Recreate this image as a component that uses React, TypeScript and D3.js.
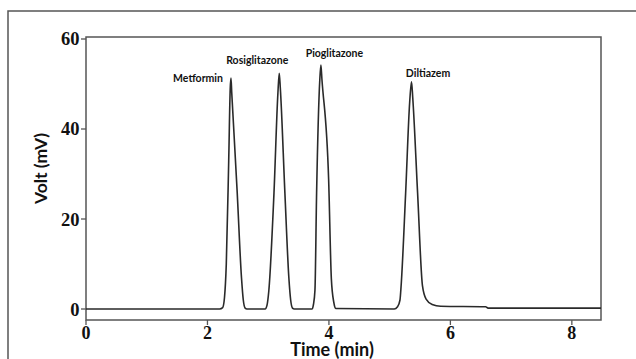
import React from "react";
import * as d3 from "d3";

const timeMin: number[] = [
  0, 2.2, 2.25, 2.28, 2.31, 2.35, 2.375, 2.387, 2.4, 2.49, 2.56, 2.59, 2.62, 2.65,
  2.95, 2.98, 3.01, 3.095, 3.16, 3.182, 3.2, 3.275, 3.34, 3.37, 3.4, 3.43,
  3.72, 3.745, 3.77, 3.797, 3.85, 3.868, 3.885, 3.995, 4.04, 4.08, 4.115,
  5.075, 5.13, 5.17, 5.185, 5.263, 5.33, 5.36, 5.38, 5.46, 5.54, 5.6, 5.7, 5.84,
  6.58, 6.62, 8.48,
];
const voltMv: number[] = [
  0, 0, 0.3, 2.5, 10, 33, 49, 51.3, 48, 25.8, 7, 2, 0.2, 0,
  0, 0.8, 4, 25.7, 48, 52.4, 49, 25.8, 7, 2, 0.2, 0,
  0, 1, 4.2, 25.7, 51, 54.2, 51, 28.9, 6.7, 1.5, 0.1,
  0, 0.5, 2, 4.4, 25.7, 46, 50.5, 47, 25.8, 5.2, 2.2, 1.0, 0.6,
  0.5, 0.2, 0.2,
];

const peakNames: string[] = ["Metformin", "Rosiglitazone", "Pioglitazone", "Diltiazem"];
const peakTimes: number[] = [2.387, 3.182, 3.868, 5.36];
const peakHeights: number[] = [51.3, 52.4, 54.2, 50.5];

const xTicks: number[] = [0, 2, 4, 6, 8];
const yTicks: number[] = [0, 20, 40, 60];

export default function App() {
  const W = 636, H = 359;
  const left = 86, right = 601, top = 37, bottom = 320;
  const x = d3.scaleLinear().domain([0, 8.48]).range([left, right]);
  const y = d3.scaleLinear().domain([-2.444, 60.444]).range([bottom, top]);
  const pts = timeMin.map((t, i) => [t, voltMv[i]] as [number, number]);
  const line = d3
    .line<[number, number]>()
    .x((d) => x(d[0]))
    .y((d) => y(d[1]))
    .curve(d3.curveMonotoneX);

  // label placement relative to peak apex
  const labelAnchor: ("end" | "middle")[] = ["end", "middle", "middle", "middle"];
  const labelDx: number[] = [-8, -22, 13.5, 16.5];
  const labelDy: number[] = [3.5, -9.3, -8.3, -5];

  const frame = "#555";
  const ink = "#2a2a2a";
  const serif = "'Liberation Serif', 'Times New Roman', serif";
  const sans = "Lato, 'Open Sans', sans-serif";

  return (
    <svg
      width={W}
      height={H}
      style={{ position: "absolute", left: 0, top: 0, background: "#fff" }}
    >
      <rect x={8} y={11} width={640} height={360} fill="none" stroke={frame} strokeWidth={1.5} />
      <rect
        x={left}
        y={top}
        width={right - left}
        height={bottom - top}
        fill="none"
        stroke={frame}
        strokeWidth={1.5}
      />
      {yTicks.map((v) => (
        <g key={"y" + v}>
          <line x1={left - 5} x2={left} y1={y(v)} y2={y(v)} stroke={frame} strokeWidth={1.3} />
          <text
            x={left - 6.5}
            y={y(v) + 6.5}
            textAnchor="end"
            fontFamily={serif}
            fontWeight="bold"
            fontSize={18.5}
            fill="#111"
          >
            {v}
          </text>
        </g>
      ))}
      {xTicks.map((v) => (
        <g key={"x" + v}>
          <line x1={x(v)} x2={x(v)} y1={bottom} y2={bottom + 5} stroke={frame} strokeWidth={1.3} />
          <text
            x={x(v)}
            y={338.5}
            textAnchor="middle"
            fontFamily={serif}
            fontWeight="bold"
            fontSize={18}
            fill="#111"
          >
            {v}
          </text>
        </g>
      ))}
      <path d={line(pts) || ""} fill="none" stroke={ink} strokeWidth={1.6} strokeLinejoin="round" />
      {peakNames.map((n, i) => (
        <text
          key={n}
          x={x(peakTimes[i]) + labelDx[i]}
          y={y(peakHeights[i]) + labelDy[i]}
          textAnchor={labelAnchor[i]}
          fontFamily={sans}
          fontWeight="bold"
          fontSize={10.5}
          fill="#111"
        >
          {n}
        </text>
      ))}
      <text
        x={332}
        y={355.5}
        textAnchor="middle"
        fontFamily={sans}
        fontWeight="bold"
        fontSize={18}
        fill="#111"
      >
        Time (min)
      </text>
      <text
        transform={`translate(46.5, 168.5) rotate(-90)`}
        textAnchor="middle"
        fontFamily={sans}
        fontWeight="bold"
        fontSize={17.5}
        fill="#111"
      >
        Volt (mV)
      </text>
    </svg>
  );
}
